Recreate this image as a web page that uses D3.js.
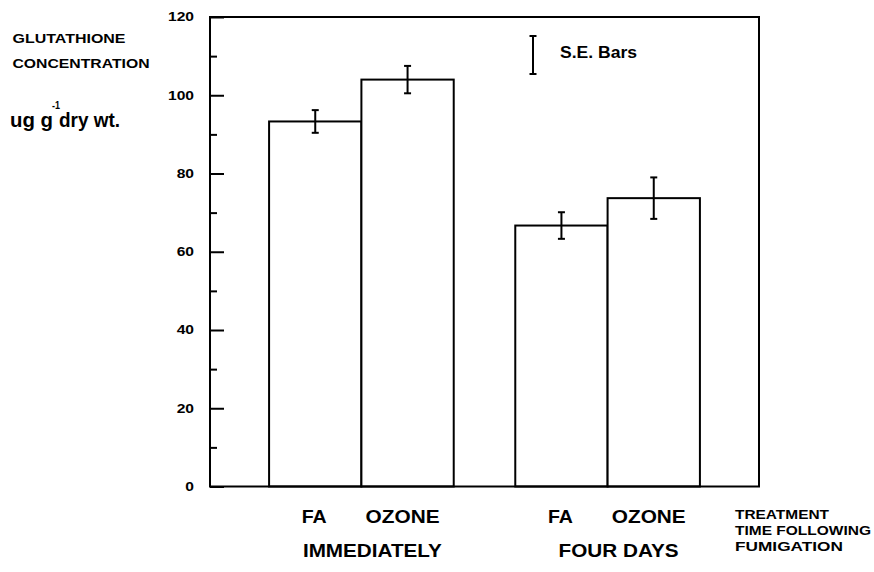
<!DOCTYPE html>
<html>
<head>
<meta charset="utf-8">
<script src="https://cdn.jsdelivr.net/npm/d3@7"></script>
<style>
  html, body { margin: 0; padding: 0; background: #fff; }
  svg { display: block; font-family: "Liberation Sans", Arial, Helvetica, sans-serif; }
  text { fill: #000; font-weight: bold; }
</style>
</head>
<body>
<svg id="chart" width="874" height="572"></svg>
<script>
// ---- data ----
const groups = ["IMMEDIATELY", "FOUR DAYS"];
const treatments = ["FA", "OZONE"];
const means = [[93.3, 104.0], [66.7, 73.7]];
const stdErrors = [[2.9, 3.5], [3.4, 5.3]];
const yTicks = [0, 20, 40, 60, 80, 100, 120];
const yMinorTicks = [10, 30, 50, 70, 90, 110];
const yTickLabels = ["0", "20", "40", "60", "80", "100", "120"];

(function () {
const svg = d3.select("#chart");

// ---- scales ----
const pLeft = 210, pRight = 759, pTop = 17, pBottom = 486.5;
const y = d3.scaleLinear().domain([0, 120]).range([pBottom, pTop]);
const x0 = d3.scaleBand().domain(groups).range([pLeft, pRight]).paddingInner(0.25).paddingOuter(0.24);
const x1 = d3.scaleBand().domain(treatments).range([0, x0.bandwidth()]).padding(0);

// rows
const rows = [];
groups.forEach((g, gi) => treatments.forEach((t, ti) => {
  rows.push({ g, t, v: means[gi][ti], se: stdErrors[gi][ti] });
}));

// ---- bars ----
svg.append("g").selectAll("rect").data(rows).join("rect")
  .attr("x", d => x0(d.g) + x1(d.t))
  .attr("y", d => y(d.v))
  .attr("width", x1.bandwidth())
  .attr("height", d => y(0) - y(d.v))
  .attr("fill", "#fff")
  .attr("stroke", "#000")
  .attr("stroke-width", 2);

// ---- error bars ----
const eb = svg.append("g").attr("stroke", "#000").attr("stroke-width", 2);
const cx = d => x0(d.g) + x1(d.t) + x1.bandwidth() / 2;
eb.selectAll("line.v").data(rows).join("line").attr("class", "v")
  .attr("x1", cx).attr("x2", cx)
  .attr("y1", d => y(d.v + d.se)).attr("y2", d => y(d.v - d.se));
eb.selectAll("line.t").data(rows).join("line").attr("class", "t")
  .attr("x1", d => cx(d) - 3.5).attr("x2", d => cx(d) + 3.5)
  .attr("y1", d => y(d.v + d.se)).attr("y2", d => y(d.v + d.se));
eb.selectAll("line.b").data(rows).join("line").attr("class", "b")
  .attr("x1", d => cx(d) - 3.5).attr("x2", d => cx(d) + 3.5)
  .attr("y1", d => y(d.v - d.se)).attr("y2", d => y(d.v - d.se));

// ---- frame ----
svg.append("rect")
  .attr("x", pLeft).attr("y", pTop)
  .attr("width", pRight - pLeft).attr("height", pBottom - pTop)
  .attr("fill", "none").attr("stroke", "#000").attr("stroke-width", 2);

// ---- y axis ----
const yAxis = d3.axisLeft(y).tickValues(yTicks)
  .tickFormat((d, i) => yTickLabels[i])
  .tickSizeInner(-14).tickSizeOuter(0).tickPadding(16);
const ga = svg.append("g").attr("transform", `translate(${pLeft},0)`).call(yAxis);
ga.select(".domain").remove();
ga.selectAll(".tick line").attr("stroke", "#000").attr("stroke-width", 2);
ga.selectAll(".tick text")
  .attr("font-size", 12).attr("font-weight", "bold")
  .attr("font-family", "Liberation Sans, Arial, sans-serif")
  .attr("fill", "#000")
  .each(function () {
    const w = this.getComputedTextLength();
    d3.select(this).attr("textLength", w * 1.3).attr("lengthAdjust", "spacingAndGlyphs");
  });

const yMinor = d3.axisLeft(y).tickValues(yMinorTicks).tickFormat("")
  .tickSizeInner(-7).tickSizeOuter(0);
const gm = svg.append("g").attr("transform", `translate(${pLeft},0)`).call(yMinor);
gm.select(".domain").remove();
gm.selectAll(".tick line").attr("stroke", "#000").attr("stroke-width", 2);

// ---- text helper ----
function label(txt, x, yy, size, len, anchor) {
  const t = svg.append("text").attr("x", x).attr("y", yy)
    .attr("font-size", size).attr("text-anchor", anchor || "start").text(txt);
  if (len) t.attr("textLength", len).attr("lengthAdjust", "spacingAndGlyphs");
  return t;
}

// y axis title
label("GLUTATHIONE", 12.5, 42.7, 13, 113);
label("CONCENTRATION", 12.5, 68.3, 13, 137);
label("ug g", 10, 126.5, 20, 43);
label("-1", 52, 109, 10, 8);
label("dry wt.", 59, 126.5, 20, 61);

// legend
const lx = 533;
const lg = svg.append("g").attr("stroke", "#000").attr("stroke-width", 2);
lg.append("line").attr("x1", lx).attr("x2", lx).attr("y1", 36).attr("y2", 74);
lg.append("line").attr("x1", lx - 3.5).attr("x2", lx + 3.5).attr("y1", 36).attr("y2", 36);
lg.append("line").attr("x1", lx - 3.5).attr("x2", lx + 3.5).attr("y1", 74).attr("y2", 74);
label("S.E. Bars", 560, 57.7, 16, 77);

// x labels
const tOffset = { "FA": -1, "OZONE": -5 };
const tLen = { "FA": 25, "OZONE": 74 };
rows.forEach(d => {
  label(d.t, cx(d) + tOffset[d.t], 523.3, 18, tLen[d.t], "middle");
});
const gLen = { "IMMEDIATELY": 139, "FOUR DAYS": 120 };
groups.forEach(g => {
  label(g, x0(g) + x0.bandwidth() / 2 + 11, 557, 18, gLen[g], "middle");
});

// right-side labels
label("TREATMENT", 735, 519.3, 12, 94);
label("TIME FOLLOWING", 735, 535, 12, 136);
label("FUMIGATION", 735, 551, 12, 108);
})();
</script>
</body>
</html>
